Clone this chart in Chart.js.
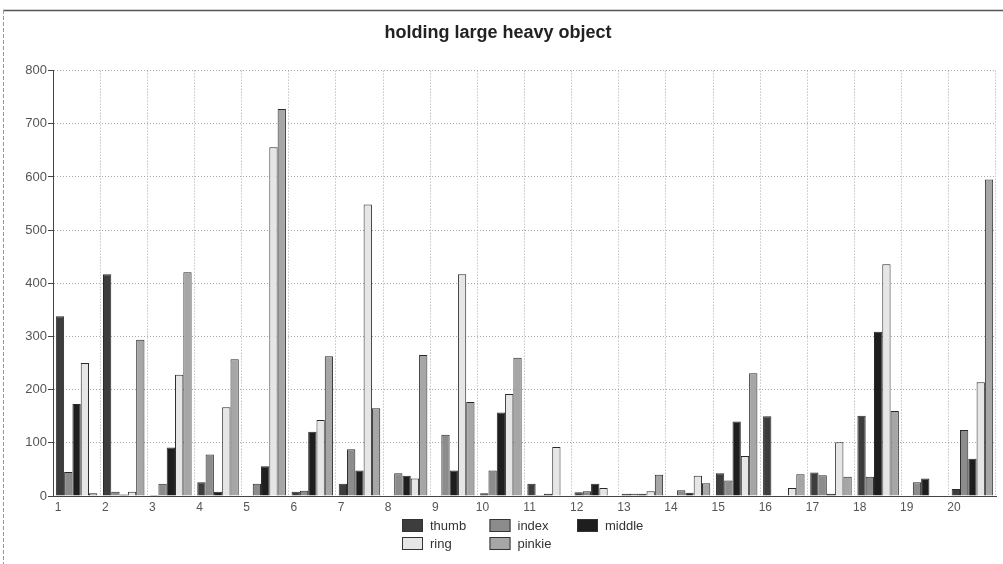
<!DOCTYPE html>
<html>
<head>
<meta charset="utf-8">
<script src="https://cdn.jsdelivr.net/npm/chart.js@4.4.1/dist/chart.umd.min.js"></script>
<style>
  html, body { margin: 0; padding: 0; background: #fff; }
  #wrap { width: 1003px; height: 564px; position: relative; }
</style>
</head>
<body>
<div id="wrap"><canvas id="c" width="1003" height="564"></canvas></div>
<script>
const titleText = 'holding large heavy object';
const categories = ['1','2','3','4','5','6','7','8','9','10','11','12','13','14','15','16','17','18','19','20'];
const seriesNames = ['thumb','index','middle','ring','pinkie'];
const thumb  = [338, 417,   2,  26,   0,   8,  23,   1,   1,   5,  23,   7,   4,   1,  43, 150,  44, 151,   1,  13];
const index  = [ 45,   8,  23,  78,  23,  10,  88,  43, 115,  48,   2,   9,   4,  11,  29,   1,  39,  36,  26, 124];
const middle = [173,   3,  91,   8,  56, 121,  48,  38,  48, 157,   4,  23,   4,   6, 140,   1,   4, 309,  33,  70];
const ring   = [250,   8, 228, 167, 656, 143, 548,  33, 417, 192,  92,  15,   9,  38,  75,  15, 101, 436,   1, 214];
const pinkie = [  5, 294, 421, 257, 728, 263, 165, 265, 177, 260,   0,   0,  40,  24, 231,  41,  36, 160,   1, 595];
const yTicks = [0, 100, 200, 300, 400, 500, 600, 700, 800];
const fills = ['#3d3d3d', '#8c8c8c', '#1e1e1e', '#e6e6e6', '#a6a6a6'];

const seriesData = [thumb, index, middle, ring, pinkie];

const legendPlugin = {
  id: 'gridLegend',
  afterDraw(chart) {
    const ctx = chart.ctx;
    ctx.save();
    const x0 = 402, y0 = 519, colW = 87.5, rowH = 18;
    chart.data.datasets.forEach((ds, i) => {
      const col = i % 3, row = Math.floor(i / 3);
      const bx = x0 + col * colW, by = y0 + row * rowH;
      ctx.fillStyle = ds.backgroundColor;
      ctx.strokeStyle = '#333';
      ctx.lineWidth = 1;
      ctx.fillRect(bx, by, 21, 13);
      ctx.strokeRect(bx + 0.5, by + 0.5, 20, 12);
      ctx.fillStyle = '#333';
      ctx.font = '13px "Liberation Sans", Arial, sans-serif';
      ctx.textBaseline = 'middle';
      ctx.textAlign = 'left';
      ctx.fillText(ds.label, bx + 28, by + 7);
    });
    ctx.restore();
  }
};

const framePlugin = {
  id: 'frame',
  beforeDraw(chart) {
    const ctx = chart.ctx;
    ctx.save();
    ctx.strokeStyle = '#555';
    ctx.lineWidth = 1.5;
    ctx.beginPath();
    ctx.moveTo(3, 10.5); ctx.lineTo(1003, 10.5);
    ctx.stroke();
    ctx.strokeStyle = '#999';
    ctx.lineWidth = 1;
    ctx.setLineDash([4, 2]);
    ctx.beginPath();
    ctx.moveTo(3.5, 10); ctx.lineTo(3.5, 564);
    ctx.stroke();
    ctx.restore();
  }
};

new Chart(document.getElementById('c'), {
  type: 'bar',
  data: {
    labels: categories,
    datasets: seriesNames.map((n, i) => ({
      label: n,
      data: seriesData[i],
      backgroundColor: fills[i],
      borderColor: '#2a2a2a',
      borderWidth: 1,
      borderSkipped: 'bottom',
      categoryPercentage: 0.88,
      barPercentage: 1.0
    }))
  },
  options: {
    responsive: false,
    animation: false,
    layout: { padding: { left: 0, right: 7, top: 0, bottom: 48 } },
    plugins: {
      legend: { display: false },
      tooltip: { enabled: false },
      title: {
        display: true,
        text: titleText,
        color: '#222',
        font: { family: '"Liberation Sans", Arial, sans-serif', size: 18, weight: 'bold' },
        padding: { top: 22, bottom: 27 }
      }
    },
    scales: {
      x: {
        type: 'category',
        offset: true,
        grid: { offset: true, color: '#a8a8a8', lineWidth: 1, drawTicks: false },
        border: { display: true, color: '#444', width: 1, dash: [1, 2] },
        ticks: {
          color: '#555',
          font: { family: '"Liberation Sans", Arial, sans-serif', size: 12 },
          labelOffset: -18.5,
          padding: 4,
          maxRotation: 0,
          autoSkip: false
        },
        afterFit(scale) { scale.height = 20; }
      },
      y: {
        min: 0,
        max: 800,
        afterBuildTicks(scale) { scale.ticks = yTicks.map(v => ({ value: v })); },
        grid: { color: '#a8a8a8', lineWidth: 1, tickLength: 5, tickColor: '#444', tickBorderDash: [] },
        border: { display: true, color: '#444', width: 1, dash: [1, 2] },
        ticks: {
          color: '#555',
          font: { family: '"Liberation Sans", Arial, sans-serif', size: 13 },
          padding: 1
        },
        afterFit(scale) { scale.width = 53; }
      }
    }
  },
  plugins: [framePlugin, legendPlugin]
});
</script>
</body>
</html>
